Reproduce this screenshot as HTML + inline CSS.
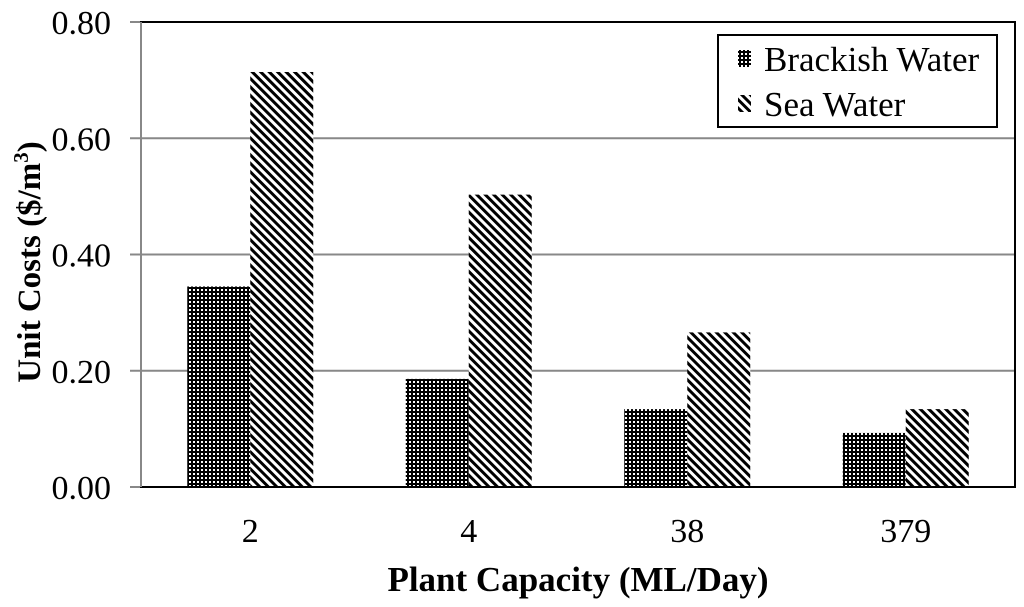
<!DOCTYPE html>
<html><head><meta charset="utf-8"><style>
body{margin:0;background:#fff;}
svg{display:block;font-family:"Liberation Serif",serif;}
</style></head><body>
<svg id="chart" width="1024" height="607">
<defs>
<pattern id="dots" width="4" height="4" patternUnits="userSpaceOnUse"><rect width="4" height="4" fill="#000"/><rect x="1" y="1" width="2" height="2" fill="#fff"/></pattern>
<pattern id="diag" width="6" height="6" patternUnits="userSpaceOnUse" patternTransform="rotate(-45)"><rect width="6" height="6" fill="#fff"/><rect width="3" height="6" fill="#000"/></pattern>
</defs>
<g id="grid"></g>
<g id="bars"></g>
<g id="axes"></g>
<text x="578" y="591" text-anchor="middle" font-size="35" font-weight="bold">Plant Capacity (ML/Day)</text>
<text transform="translate(40,262) rotate(-90)" text-anchor="middle" font-size="33" font-weight="bold">Unit Costs ($/m<tspan font-size="21" dy="-12">3</tspan><tspan dy="12">)</tspan></text>
<g>
<rect x="718" y="35" width="279" height="92" fill="#fff" stroke="#000" stroke-width="2"/>
<rect x="738" y="50" width="13" height="17" fill="url(#dots)"/>
<text x="764" y="71" font-size="35">Brackish Water</text>
<rect x="738" y="95" width="13" height="17" fill="url(#diag)"/>
<text x="764" y="116" font-size="35">Sea Water</text>
</g>
</svg>
<script>
const categories=["2","4","38","379"];
const brackish=[0.345,0.186,0.134,0.093];
const sea=[0.714,0.503,0.266,0.134];
const yTicks=[0,0.2,0.4,0.6,0.8];
const yTickLabels=["0.00","0.20","0.40","0.60","0.80"];
const NS="http://www.w3.org/2000/svg";
const X0=141,X1=1015,Y0=487,Y1=22;
const y=v=>Y0-(v/0.8)*(Y0-Y1);
const cw=(X1-X0)/categories.length;
const xc=i=>X0+cw*(i+0.5);
function mk(tag,attrs,parent){const e=document.createElementNS(NS,tag);for(const k in attrs)e.setAttribute(k,attrs[k]);document.getElementById(parent).appendChild(e);return e;}
yTicks.forEach((t,i)=>{
 if(t>0){const g=mk('line',{x1:X0,x2:X1,y1:y(t),y2:y(t),stroke:'#888','stroke-width':2},'grid');
 
 }
 const tx=mk('text',{x:X0-30,y:y(t)+12,'text-anchor':'end','font-size':34},'axes');
 tx.textContent=yTickLabels[i];
 
 
 const tk=mk('line',{x1:X0-11,x2:X0,y1:y(t),y2:y(t),stroke:'#888','stroke-width':2},'axes');
 
 
});
const bw=63;
categories.forEach((c,i)=>{
 const b=mk('rect',{x:xc(i)-bw,y:y(brackish[i]),width:bw,height:Y0-y(brackish[i]),fill:'url(#dots)'},'bars');
 
 
 const s=mk('rect',{x:xc(i),y:y(sea[i]),width:bw,height:Y0-y(sea[i]),fill:'url(#diag)'},'bars');
 
 
 const t=mk('text',{x:xc(i),y:542,'text-anchor':'middle','font-size':34},'axes');
 t.textContent=c;
 
 
});
const fr=mk('rect',{x:X0,y:Y1,width:X1-X0,height:Y0-Y1,fill:'none',stroke:'#000','stroke-width':2},'axes');


const ax=mk('line',{x1:X0,x2:X0,y1:Y1,y2:Y0,stroke:'#888','stroke-width':2},'axes');


</script>
</body></html>
